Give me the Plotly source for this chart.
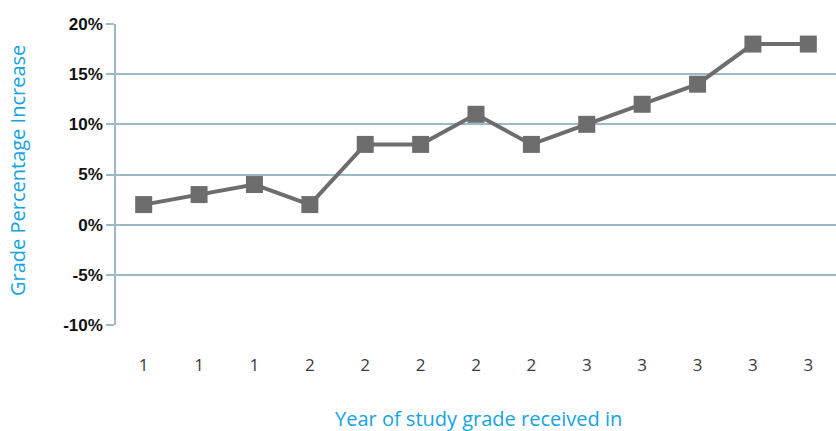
import plotly.graph_objects as go

# Year of study each grade was received in (one entry per grade)
year_labels = ["1", "1", "1", "2", "2", "2", "2", "2", "3", "3", "3", "3", "3"]
# Grade percentage increase for each grade
pct_increase = [2, 3, 4, 2, 8, 8, 11, 8, 10, 12, 14, 18, 18]

y_ticks = [-10, -5, 0, 5, 10, 15, 20]
y_tick_text = ["-10%", "-5%", "0%", "5%", "10%", "15%", "20%"]

positions = list(range(len(year_labels)))

grid_color = "#9db9c9"
line_gray = "#6d6d6d"
title_blue = "#14a3e3"

fig = go.Figure()
fig.add_trace(go.Scatter(
    x=positions,
    y=pct_increase,
    mode="lines+markers",
    line=dict(color=line_gray, width=4),
    marker=dict(symbol="square", size=17, color=line_gray),
    showlegend=False,
    hoverinfo="skip",
))

fig.update_layout(
    width=836,
    height=431,
    margin=dict(l=116, r=0, t=24, b=106),
    paper_bgcolor="white",
    plot_bgcolor="white",
    xaxis=dict(
        range=[-0.5, len(year_labels) - 0.5],
        tickmode="array",
        tickvals=positions,
        ticktext=year_labels,
        showgrid=False,
        zeroline=False,
        showline=False,
        ticks="",
        ticklabelstandoff=28,
        tickfont=dict(family="Open Sans", size=17, color="#3a3a3a"),
    ),
    yaxis=dict(
        range=[-10, 20],
        tickmode="array",
        tickvals=y_ticks,
        ticktext=y_tick_text,
        showgrid=True,
        gridcolor=grid_color,
        gridwidth=1.5,
        zeroline=False,
        showline=True,
        linecolor=grid_color,
        linewidth=1.5,
        ticks="outside",
        ticklen=8,
        tickcolor=grid_color,
        tickwidth=1.5,
        tickfont=dict(family="Liberation Sans", size=17, color="#111111", weight="bold"),
    ),
    annotations=[
        dict(
            text="Grade Percentage Increase",
            xref="paper", yref="paper",
            x=-116 / 720 + 18 / 720, y=0.515,
            xanchor="center", yanchor="middle",
            textangle=-90,
            showarrow=False,
            font=dict(family="Open Sans", size=20, color=title_blue),
        ),
        dict(
            text="Year of study grade received in",
            xref="paper", yref="paper",
            x=(478 - 116) / 720, y=-(418 - 325) / 301,
            xanchor="center", yanchor="middle",
            showarrow=False,
            font=dict(family="Open Sans", size=20, color=title_blue),
        ),
    ],
)

fig.write_html("out.html")
